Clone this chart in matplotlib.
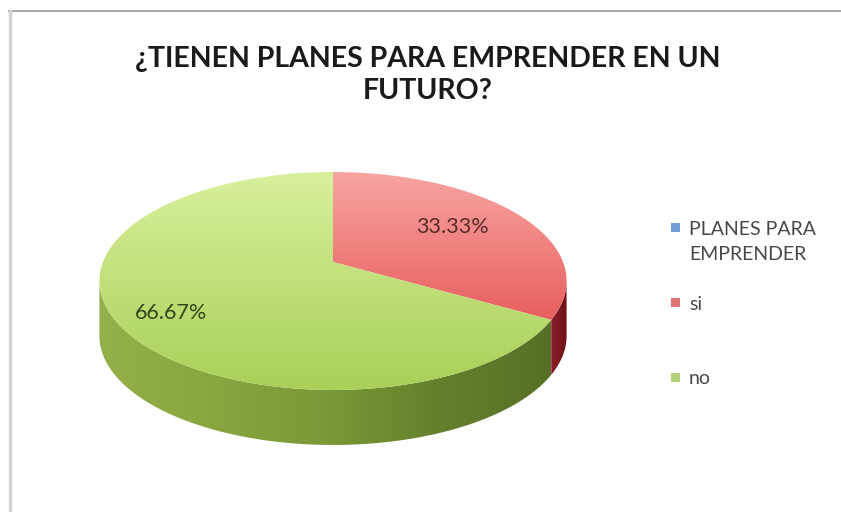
import matplotlib
matplotlib.use("Agg")
import matplotlib.pyplot as plt
import numpy as np
from matplotlib.colors import LinearSegmentedColormap
from matplotlib.patches import Polygon, Rectangle

plt.rcParams["font.family"] = ["Lato", "DejaVu Sans"]

title = "¿TIENEN PLANES PARA EMPRENDER EN UN\nFUTURO?"
categories = ["PLANES PARA\nEMPRENDER", "si", "no"]
values = [0, 33.33, 66.67]
legend_colors = ["#6f9fd6", "#e37474", "#b4d27c"]

# top surface gradients (top to bottom), side gradients (left to right)
top_colors = {"si": ["#f7a5a2", "#e85f5e"], "no": ["#d8f09c", "#aacf58"]}
side_colors = {"si": ["#8a1f26", "#6e1218"],
               "no": ["#94b04a", "#8aa63f", "#7c9838", "#64802c", "#587026"]}

# pie geometry in pixels, with the tilt of the chart
center_x = 333
center_y = 262
radius_x = 230
a = -60.0
c = 0.1743
depth = 55


def project(angle):
    # angle in degrees, clockwise from the top of the pie
    u = np.sin(np.radians(angle))
    v = np.cos(np.radians(angle))
    w = 1 + c * v
    return center_x + radius_x * u / w, (a * v + center_y) / w


def gradient(ax, colors, clip, horizontal=False):
    cmap = LinearSegmentedColormap.from_list("g", colors)
    g = np.linspace(0, 1, 256)
    g = g.reshape(1, -1) if horizontal else g.reshape(-1, 1)
    x0, y0 = clip.min(axis=0)
    x1, y1 = clip.max(axis=0)
    im = ax.imshow(g, cmap=cmap, extent=[x0, x1, y1, y0], aspect="auto", zorder=2, interpolation="bilinear")
    patch = Polygon(clip, closed=True, transform=ax.transData, fc="none", ec="none")
    ax.add_patch(patch)
    im.set_clip_path(patch)


fig = plt.figure(figsize=(8.41, 5.12), dpi=100)
ax = fig.add_axes([0, 0, 1, 1])

# slices start at the top and go clockwise
ends = np.cumsum(values) / sum(values) * 360
starts = ends - np.array(values) / sum(values) * 360
si_end = ends[1]

# screen extremes of the rim, where the side stops being visible
rim = np.linspace(0, 360, 1441)
rim_x, rim_y = project(rim)
right_angle = rim[np.argmax(rim_x)]
left_angle = rim[np.argmin(rim_x)]

# sides
for name, a0, a1 in [("si", right_angle, si_end), ("no", si_end, left_angle)]:
    t = np.linspace(a0, a1, 200)
    x, y = project(t)
    pts = np.column_stack([np.r_[x, x[::-1]], np.r_[y, y[::-1] + depth]])
    gradient(ax, side_colors[name], pts, horizontal=True)

# top faces
for i, name in [(1, "si"), (2, "no")]:
    t = np.linspace(starts[i], ends[i], 300)
    x, y = project(t)
    pts = np.column_stack([np.r_[center_x, x], np.r_[center_y, y]])
    gradient(ax, top_colors[name], pts)

# percent labels
ax.text(452, 227, "%.2f%%" % values[1], fontsize=15.5, color="#5a2a2a", ha="center", va="center", zorder=5)
ax.text(171, 313, "%.2f%%" % values[2], fontsize=15.5, color="#33461a", ha="center", va="center", zorder=5)

# title
ax.text(428, 75, title, fontsize=20.5, fontweight="bold", color="#1a1a1a", ha="center", va="center",
        linespacing=1.3, zorder=5)

# legend
legend_y = [227, 302, 377]
text_y = [242, 305, 379]
for name, color, sy, ty in zip(categories, legend_colors, legend_y, text_y):
    ax.add_patch(Rectangle((671, sy - 4.5), 9, 9, fc=color, ec="none", zorder=5))
    ax.text(689, ty, name, fontsize=14, color="#484848", ha="left", va="center", linespacing=1.6, zorder=5)

# frame of the screenshot
ax.plot([9, 841], [11, 11], color="#a9a9a9", lw=1.5, zorder=6)
ax.plot([10, 10], [11, 512], color="#d2d2d2", lw=2.5, zorder=6)

ax.set_xlim(0, 841)
ax.set_ylim(512, 0)
ax.axis("off")
fig.savefig("out.png", dpi=100)
